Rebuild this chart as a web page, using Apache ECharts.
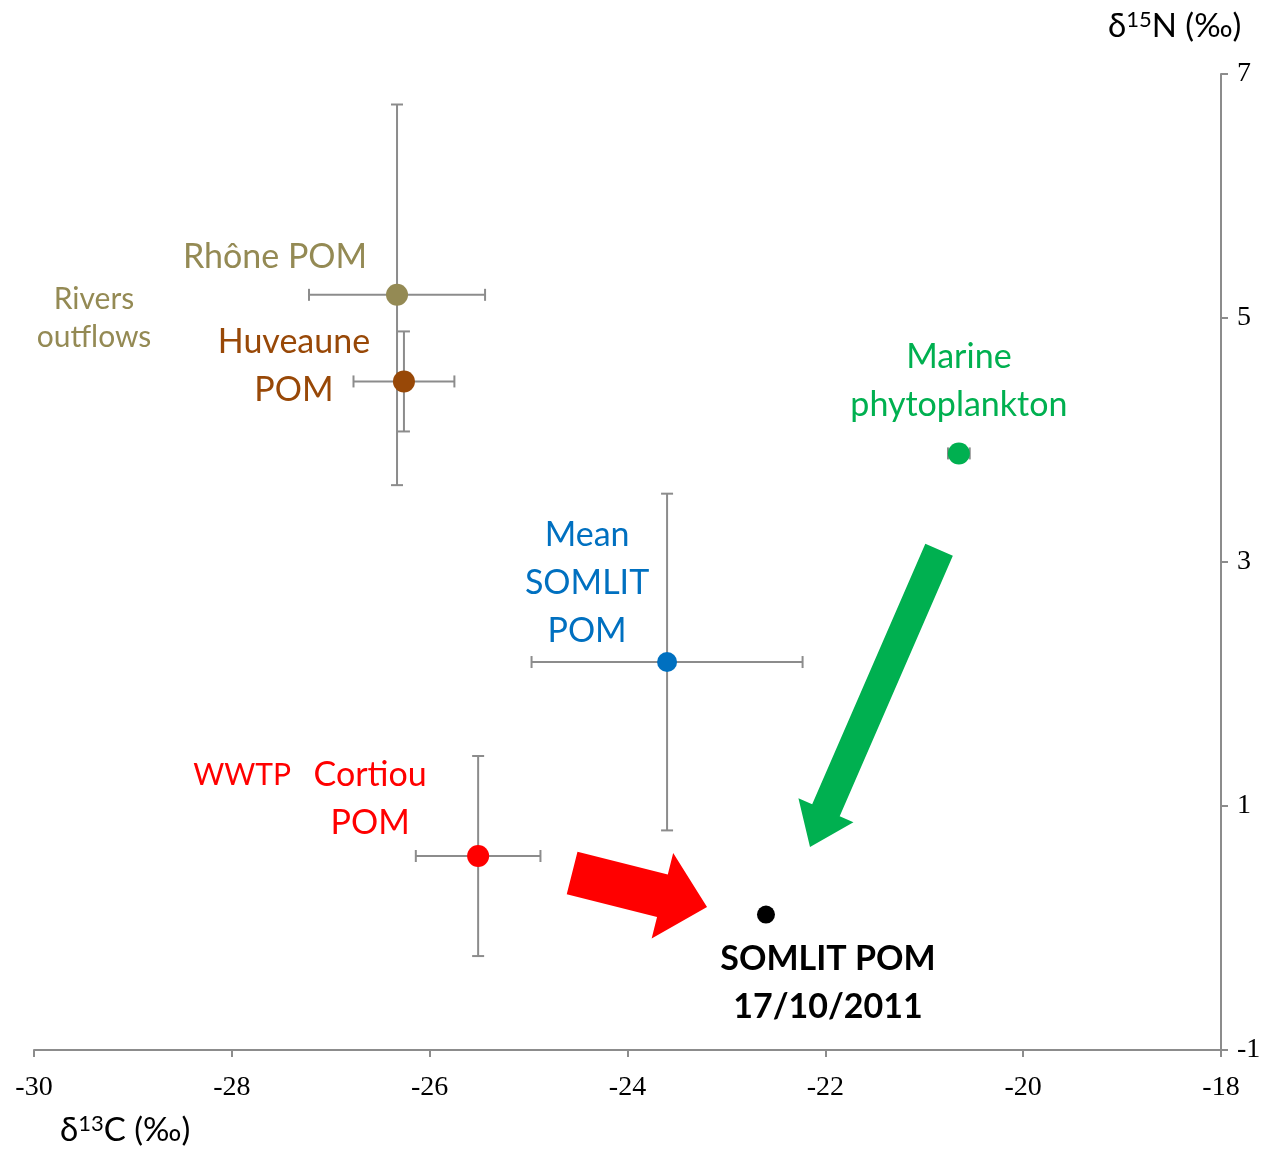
<!DOCTYPE html>
<html><head><meta charset="utf-8">
<script src="https://cdn.jsdelivr.net/npm/echarts@6/dist/echarts.min.js"></script>
<style>html,body{margin:0;padding:0;background:#fff}#c{width:1282px;height:1152px}</style>
</head><body><div id="c"></div>
<script>
// ---- data ----
const groups = ["Rhône POM", "Huveaune POM", "Marine phytoplankton", "Mean SOMLIT POM", "WWTP Cortiou POM", "SOMLIT POM 17/10/2011"];
const d13C = [-26.33, -26.26, -20.65, -23.60, -25.51, -22.60];
const d15N = [5.19, 4.48, 3.89, 2.18, 0.59, 0.11];
const sdC = [0.89, 0.51, 0.11, 1.37, 0.63, 0];
const sdN = [1.56, 0.41, 0, 1.38, 0.82, 0];
const xTicks = [-30, -28, -26, -24, -22, -20, -18];
const yTicks = [-1, 1, 3, 5, 7];
const arrowFrom = [[-20.85, 3.10], [-24.56, 0.451]];
const arrowTo = [[-22.155, 0.664], [-23.196, 0.172]];
const labelTexts = ["Rhône POM", "Huveaune\nPOM", "Marine\nphytoplankton", "Mean\nSOMLIT\nPOM", "Cortiou\nPOM", "SOMLIT POM\n17/10/2011"];
const extraTexts = ["Rivers\noutflows", "WWTP"];

// ---- styles / layout ----
const colors = ["#948A54", "#984807", "#00B050", "#0070C0", "#FF0000", "#000000"];
const sizes = [22, 22, 22, 20, 22, 18];
const labelOffsets = [[-122, -38], [-110, -15], [0, -72], [-80, -79], [-108, -57], [62, 68]];
const arrowColors = ["#00B050", "#FF0000"];
const arrowDims = [{shaft: 30, head: 60, headLen: 40}, {shaft: 44, head: 88, headLen: 46}];
const axisColor = "#8C8C8C";
const labelFont = "Lato";

const chart = echarts.init(document.getElementById('c'), null, {renderer: 'canvas'});

const pointData = groups.map((g, i) => ({
  name: g, value: [d13C[i], d15N[i]],
  symbolSize: sizes[i], itemStyle: {color: colors[i], opacity: 1}
}));

const labelData = groups.map((g, i) => ({
  name: g, value: [d13C[i], d15N[i]],
  label: {
    show: true, formatter: labelTexts[i], position: 'inside',
    offset: labelOffsets[i], color: colors[i],
    fontFamily: labelFont, fontSize: 34, lineHeight: 48,
    fontWeight: i === 5 ? 'bold' : 'normal', align: 'center', verticalAlign: 'middle'
  }
}));
labelData.push({
  name: 'rivers', value: [d13C[0], d15N[0]],
  label: {show: true, formatter: extraTexts[0], position: 'inside', offset: [-303, 24],
    color: colors[0], fontFamily: labelFont, fontSize: 30, lineHeight: 38, align: 'center', verticalAlign: 'middle'}
});
labelData.push({
  name: 'wwtp', value: [d13C[4], d15N[4]],
  label: {show: true, formatter: extraTexts[1], position: 'inside', offset: [-236, -81],
    color: colors[4], fontFamily: labelFont, fontSize: 30, align: 'center', verticalAlign: 'middle'}
});

const errData = groups.map((g, i) => [d13C[i], d15N[i], sdC[i], sdN[i]]);
const arrowData = arrowFrom.map((f, i) => [f[0], f[1], arrowTo[i][0], arrowTo[i][1], i]);

function renderErr(params, api) {
  const x = api.value(0), y = api.value(1), sx = api.value(2), sy = api.value(3);
  const children = [];
  const st = {stroke: axisColor, lineWidth: 2};
  const cap = 6;
  if (sx > 0) {
    const a = api.coord([x - sx, y]), b = api.coord([x + sx, y]);
    children.push({type: 'line', shape: {x1: a[0], y1: a[1], x2: b[0], y2: b[1]}, style: st});
    children.push({type: 'line', shape: {x1: a[0], y1: a[1] - cap, x2: a[0], y2: a[1] + cap}, style: st});
    children.push({type: 'line', shape: {x1: b[0], y1: b[1] - cap, x2: b[0], y2: b[1] + cap}, style: st});
  }
  if (sy > 0) {
    const a = api.coord([x, y - sy]), b = api.coord([x, y + sy]);
    children.push({type: 'line', shape: {x1: a[0], y1: a[1], x2: b[0], y2: b[1]}, style: st});
    children.push({type: 'line', shape: {x1: a[0] - cap, y1: a[1], x2: a[0] + cap, y2: a[1]}, style: st});
    children.push({type: 'line', shape: {x1: b[0] - cap, y1: b[1], x2: b[0] + cap, y2: b[1]}, style: st});
  }
  return {type: 'group', children: children};
}

function renderArrow(params, api) {
  const p0 = api.coord([api.value(0), api.value(1)]);
  const p1 = api.coord([api.value(2), api.value(3)]);
  const idx = api.value(4);
  const dm = arrowDims[idx];
  const dx = p1[0] - p0[0], dy = p1[1] - p0[1];
  const L = Math.sqrt(dx * dx + dy * dy);
  const ux = dx / L, uy = dy / L, nx = -uy, ny = ux;
  const bx = p1[0] - ux * dm.headLen, by = p1[1] - uy * dm.headLen;
  const s = dm.shaft / 2, h = dm.head / 2;
  const pts = [
    [p0[0] + nx * s, p0[1] + ny * s],
    [bx + nx * s, by + ny * s],
    [bx + nx * h, by + ny * h],
    [p1[0], p1[1]],
    [bx - nx * h, by - ny * h],
    [bx - nx * s, by - ny * s],
    [p0[0] - nx * s, p0[1] - ny * s]
  ];
  return {type: 'polygon', shape: {points: pts}, style: {fill: arrowColors[idx]}};
}

const titleRich = {
  a: {fontFamily: labelFont, fontSize: 33, fill: '#000'},
  s: {fontFamily: labelFont, fontSize: 22, fill: '#000', verticalAlign: 'top', padding: [0, 0, 12, 0]}
};

const option = {
  backgroundColor: '#ffffff',
  animation: false,
  grid: {left: 34, right: 61, top: 74, bottom: 102, containLabel: false},
  xAxis: {
    type: 'value', min: xTicks[0], max: xTicks[xTicks.length - 1], interval: 2,
    axisLine: {show: true, onZero: false, lineStyle: {color: axisColor, width: 2}},
    axisTick: {show: true, length: 7, lineStyle: {color: axisColor, width: 2}},
    axisLabel: {color: '#000', fontFamily: 'Liberation Serif', fontSize: 28, margin: 24},
    splitLine: {show: false}
  },
  yAxis: {
    type: 'value', position: 'right', min: yTicks[0], max: yTicks[yTicks.length - 1],
    axisLine: {show: true, onZero: false, lineStyle: {color: axisColor, width: 2}},
    axisTick: {show: true, length: 7, customValues: yTicks, lineStyle: {color: axisColor, width: 2}},
    axisLabel: {color: '#000', fontFamily: 'Liberation Serif', fontSize: 28, margin: 16, customValues: yTicks},
    splitLine: {show: false}
  },
  graphic: [
    {type: 'text', left: 60, top: 1113, style: {text: '{a|δ}{s|13}{a|C (‰)}', rich: titleRich}},
    {type: 'text', left: 1108, top: 9, style: {text: '{a|δ}{s|15}{a|N (‰)}', rich: titleRich}}
  ],
  series: [
    {type: 'custom', name: 'errors', renderItem: renderErr, data: errData, z: 1, silent: true},
    {type: 'custom', name: 'arrows', renderItem: renderArrow, data: arrowData, z: 1, silent: true},
    {type: 'scatter', name: 'points', data: pointData, z: 3, symbol: 'circle', itemStyle: {opacity: 1}},
    {type: 'scatter', name: 'labels', data: labelData, symbolSize: 0, z: 4, silent: true, itemStyle: {opacity: 1}}
  ]
};
chart.setOption(option);
</script>
</body></html>
